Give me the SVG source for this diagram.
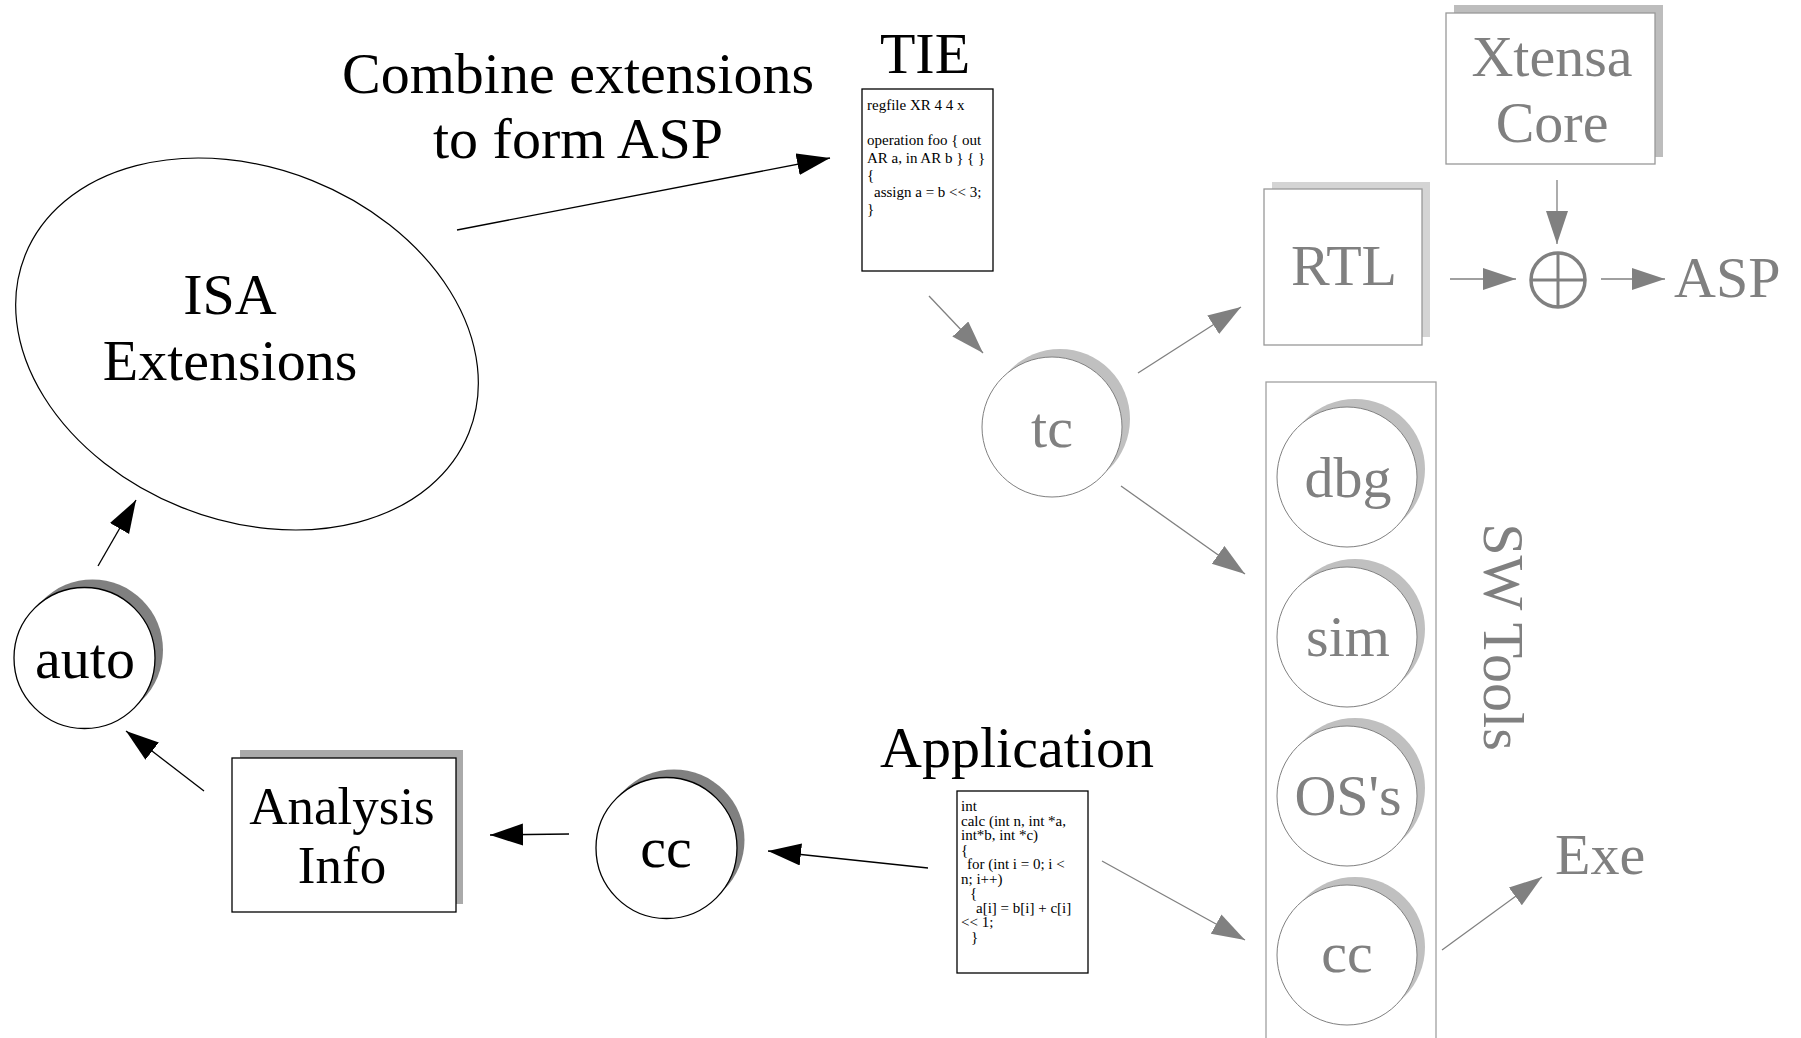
<svg xmlns="http://www.w3.org/2000/svg" width="1801" height="1038" viewBox="0 0 1801 1038">
  <style>
    text { font-family: "Liberation Serif", "Times New Roman", serif; }
    .big { font-size: 58px; text-anchor: middle; }
    .blk { fill: #000; }
    .gry { fill: #808080; }
    .code { font-size: 15px; fill: #000; }
    .ln-b { stroke: #000; stroke-width: 1.3; fill: none; marker-end: url(#ahB); }
    .ln-g { stroke: #808080; stroke-width: 1.3; fill: none; marker-end: url(#ahG); }
    .nodeB { fill: #fff; stroke: #000; stroke-width: 1.3; }
    .nodeG { fill: #fff; stroke: #808080; stroke-width: 1; }
    .shB { fill: #808080; }
    .shG { fill: #c0c0c0; }
    .boxG { fill: #fff; stroke: #999; stroke-width: 1.3; }
  </style>
  <defs>
    <marker id="ahB" markerUnits="userSpaceOnUse" markerWidth="34" markerHeight="24" refX="33" refY="11" orient="auto">
      <path d="M0,0 L33,11 L0,22 z" fill="#000"/>
    </marker>
    <marker id="ahG" markerUnits="userSpaceOnUse" markerWidth="34" markerHeight="24" refX="33" refY="11" orient="auto">
      <path d="M0,0 L33,11 L0,22 z" fill="#808080"/>
    </marker>
  </defs>
  <rect width="1801" height="1038" fill="#fff"/>

  <!-- free-standing labels -->
  <g id="label-combine">
    <text class="big blk" x="578" y="93">Combine extensions</text>
    <text class="big blk" x="578" y="158">to form ASP</text>
  </g>
  <g id="label-asp"><text class="gry" style="font-size:58px" x="1674" y="297">ASP</text></g>
  <g id="label-exe"><text class="gry" style="font-size:58px" x="1555" y="874">Exe</text></g>

  <!-- ISA extensions ellipse -->
  <g id="isa">
    <ellipse cx="247" cy="344" rx="239" ry="176" transform="rotate(21.8 247 344)" fill="#fff" stroke="#000" stroke-width="1.2"/>
    <text class="big blk" x="230" y="314">ISA</text>
    <text class="big blk" x="230" y="380">Extensions</text>
  </g>

  <!-- TIE description -->
  <g id="tie">
    <text class="big blk" x="925" y="73">TIE</text>
    <rect x="862" y="89" width="131" height="182" fill="#fff" stroke="#000" stroke-width="1.3"/>
    <text class="code" x="867" y="110">regfile XR 4 4 x</text>
    <text class="code" x="867" y="145">operation foo { out</text>
    <text class="code" x="867" y="163">AR a, in AR b } { }</text>
    <text class="code" x="867" y="180">{</text>
    <text class="code" x="874" y="197">assign a = b &lt;&lt; 3;</text>
    <text class="code" x="867" y="214">}</text>
  </g>

  <!-- TIE compiler -->
  <g id="tc">
    <circle class="shG" cx="1060" cy="419" r="70"/>
    <circle class="nodeG" cx="1052" cy="427" r="70"/>
    <text class="big gry" x="1052" y="447">tc</text>
  </g>

  <!-- Xtensa core -->
  <g id="xtensa">
    <rect x="1454" y="5" width="209" height="152" fill="#bdbdbd"/>
    <rect class="boxG" x="1446" y="13" width="209" height="151"/>
    <text class="big gry" x="1552" y="76">Xtensa</text>
    <text class="big gry" x="1552" y="142">Core</text>
  </g>

  <!-- RTL -->
  <g id="rtl">
    <rect x="1272" y="182" width="158" height="155" fill="#d4d4d4"/>
    <rect class="boxG" x="1264" y="189" width="158" height="156"/>
    <text class="big gry" x="1344" y="285">RTL</text>
  </g>

  <!-- combine operator -->
  <g id="combine">
    <circle cx="1558" cy="280" r="27" fill="#fff" stroke="#808080" stroke-width="3.5"/>
    <line x1="1558" y1="253" x2="1558" y2="307" stroke="#808080" stroke-width="3"/>
    <line x1="1531" y1="280" x2="1585" y2="280" stroke="#808080" stroke-width="3"/>
  </g>

  <!-- software tools column -->
  <g id="sw-tools">
    <rect x="1266" y="382" width="170" height="680" fill="#fff" stroke="#a0a0a0" stroke-width="1.3"/>
    <text class="big gry" x="1484" y="637" transform="rotate(90 1484 637)">SW Tools</text>
  </g>
  <g id="dbg">
    <circle class="shG" cx="1355" cy="469" r="70"/>
    <circle class="nodeG" cx="1347" cy="477" r="70"/>
    <text class="big gry" x="1348" y="497">dbg</text>
  </g>
  <g id="sim">
    <circle class="shG" cx="1355" cy="629" r="70"/>
    <circle class="nodeG" cx="1347" cy="637" r="70"/>
    <text class="big gry" x="1348" y="656">sim</text>
  </g>
  <g id="os">
    <circle class="shG" cx="1355" cy="788" r="70"/>
    <circle class="nodeG" cx="1347" cy="796" r="70"/>
    <text class="big gry" x="1348" y="815">OS's</text>
  </g>
  <g id="cc-sw">
    <circle class="shG" cx="1355" cy="947" r="70"/>
    <circle class="nodeG" cx="1347" cy="955" r="70"/>
    <text class="big gry" x="1347" y="972">cc</text>
  </g>

  <!-- application source -->
  <g id="application">
    <text class="big blk" x="1017" y="767">Application</text>
    <rect x="957" y="791" width="131" height="182" fill="#fff" stroke="#000" stroke-width="1.3"/>
    <text class="code" x="961" y="811">int</text>
    <text class="code" x="961" y="826">calc (int n, int *a,</text>
    <text class="code" x="961" y="840">int*b, int *c)</text>
    <text class="code" x="961" y="855">{</text>
    <text class="code" x="967" y="869">for (int i = 0; i &lt;</text>
    <text class="code" x="961" y="884">n; i++)</text>
    <text class="code" x="970" y="898">{</text>
    <text class="code" x="976" y="913">a[i] = b[i] + c[i]</text>
    <text class="code" x="961" y="927">&lt;&lt; 1;</text>
    <text class="code" x="971" y="942">}</text>
  </g>

  <!-- native compiler -->
  <g id="cc">
    <circle class="shB" cx="674" cy="840" r="70.5"/>
    <circle class="nodeB" cx="666.5" cy="848" r="70.5"/>
    <text class="big blk" x="666" y="867">cc</text>
  </g>

  <!-- analysis info -->
  <g id="analysis">
    <rect x="240" y="750" width="223" height="154" fill="#aaaaaa"/>
    <rect x="232" y="758" width="224" height="154" fill="#fff" stroke="#000" stroke-width="1.3"/>
    <text class="blk" style="font-size:53px;text-anchor:middle" x="342" y="824">Analysis</text>
    <text class="blk" style="font-size:53px;text-anchor:middle" x="342" y="883">Info</text>
  </g>

  <!-- extension generator -->
  <g id="auto">
    <circle class="shB" cx="92.5" cy="650" r="70.5"/>
    <circle class="nodeB" cx="84.5" cy="658" r="70.5"/>
    <text class="big blk" x="85" y="678">auto</text>
  </g>

  <!-- connectors -->
  <g id="connectors">
    <line class="ln-b" x1="457" y1="230" x2="830" y2="158"/>
    <line class="ln-g" x1="929" y1="296" x2="983" y2="353"/>
    <line class="ln-g" x1="1138" y1="373" x2="1241" y2="307"/>
    <line class="ln-g" x1="1121" y1="486" x2="1245" y2="574"/>
    <line class="ln-g" x1="1557" y1="180" x2="1557" y2="244"/>
    <line class="ln-g" x1="1450" y1="279" x2="1516" y2="279"/>
    <line class="ln-g" x1="1601" y1="279" x2="1665" y2="279"/>
    <line class="ln-g" x1="1102" y1="861" x2="1245" y2="940"/>
    <line class="ln-g" x1="1442" y1="950" x2="1542" y2="877"/>
    <line class="ln-b" x1="928" y1="868" x2="768" y2="851"/>
    <line class="ln-b" x1="569" y1="834" x2="490" y2="835"/>
    <line class="ln-b" x1="204" y1="791" x2="126" y2="731"/>
    <line class="ln-b" x1="98" y1="566" x2="136" y2="500"/>
  </g>
</svg>
